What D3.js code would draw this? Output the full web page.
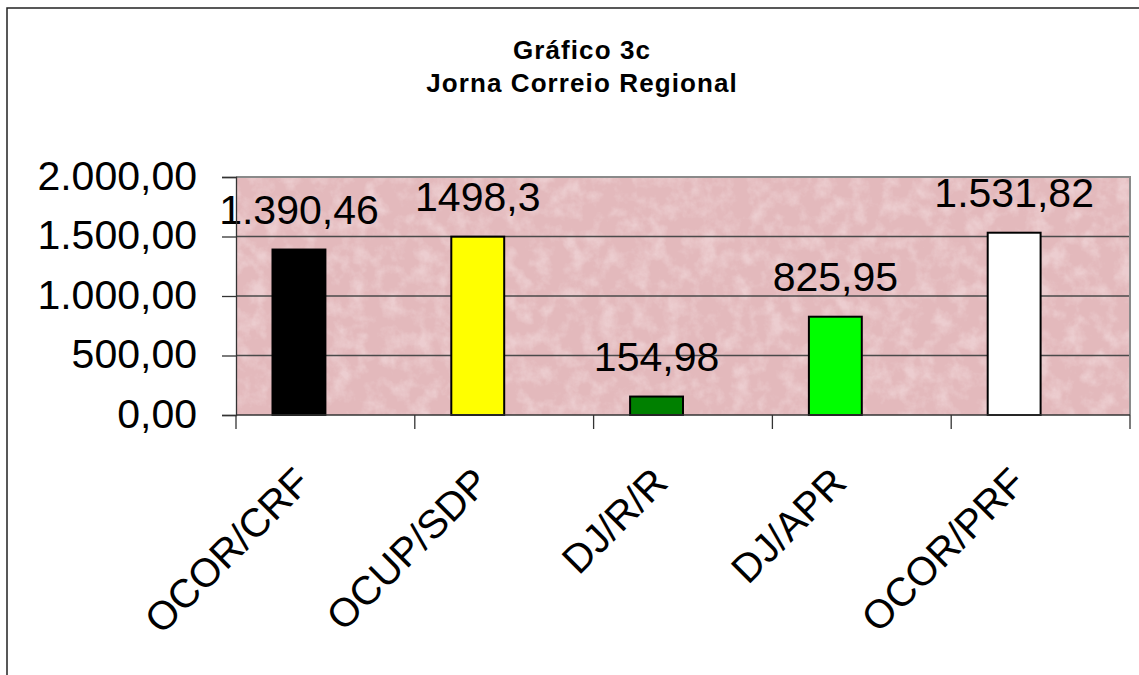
<!DOCTYPE html>
<html>
<head>
<meta charset="utf-8">
<script src="https://cdn.jsdelivr.net/npm/d3@7"></script>
<style>
  body { margin: 0; background: #fff; }
  text { font-family: "Liberation Sans", Arial, sans-serif; fill: #000; }
</style>
</head>
<body>
<svg id="chart" width="1139" height="675"></svg>
<script>
// chart data
const categories = ["OCOR/CRF", "OCUP/SDP", "DJ/R/R", "DJ/APR", "OCOR/PRF"];
const values = [1390.46, 1498.3, 154.98, 825.95, 1531.82];
const valueLabels = ["1.390,46", "1498,3", "154,98", "825,95", "1.531,82"];
const barColors = ["#000000", "#ffff00", "#008000", "#00ff00", "#ffffff"];
const yTicks = [0, 500, 1000, 1500, 2000];
const titleLines = ["Gráfico 3c", "Jorna Correio Regional"];

const svg = d3.select("#chart");

// plot area box
const plotL = 236, plotR = 1130, plotT = 177, plotB = 415;

// pt-BR number style for the axis
const br = d3.formatLocale({ decimal: ",", thousands: ".", grouping: [3], currency: ["", ""] });
const fmt = br.format(",.2f");

// scales
const x0 = d3.scaleBand().domain(categories).range([plotL, plotR]).padding(0);
// excel draws the bar in the left slot of a two slot cluster
const x1 = d3.scaleBand().domain(["v", "blank"]).range([0, x0.bandwidth()]).paddingInner(0).paddingOuter(0.69);
const y = d3.scaleLinear().domain([0, 2000]).range([plotB, plotT]);

// marble-ish texture for the plot background
const defs = svg.append("defs");
const filt = defs.append("filter").attr("id", "marble")
    .attr("x", 0).attr("y", 0).attr("width", 1).attr("height", 1);
filt.append("feTurbulence")
    .attr("type", "fractalNoise")
    .attr("baseFrequency", 0.06)
    .attr("numOctaves", 4)
    .attr("seed", 3)
    .attr("result", "noise");
filt.append("feColorMatrix")
    .attr("in", "noise")
    .attr("type", "matrix")
    .attr("values", "0 0 0 0 0.96  0 0 0 0 0.85  0 0 0 0 0.86  2.5 0 0 0 -1.05");

// outer frame, runs off the right and bottom of the picture
svg.append("rect")
    .attr("x", 7).attr("y", 8)
    .attr("width", 1300).attr("height", 800)
    .attr("fill", "none")
    .attr("stroke", "#222")
    .attr("stroke-width", 1.5);

// title
svg.append("g").selectAll("text")
    .data(titleLines)
    .join("text")
    .attr("x", 582)
    .attr("y", (d, i) => 59 + i * 33)
    .attr("text-anchor", "middle")
    .attr("font-size", 26)
    .attr("font-weight", "bold")
    .attr("letter-spacing", 1.1)
    .text(d => d);

// plot background
svg.append("rect")
    .attr("x", plotL).attr("y", plotT)
    .attr("width", plotR - plotL).attr("height", plotB - plotT)
    .attr("fill", "#e3b9bc");
svg.append("rect")
    .attr("x", plotL).attr("y", plotT)
    .attr("width", plotR - plotL).attr("height", plotB - plotT)
    .attr("filter", "url(#marble)")
    .attr("opacity", 0.4);

// gridlines
svg.append("g").selectAll("line")
    .data(yTicks.filter(d => d > 0))
    .join("line")
    .attr("x1", plotL).attr("x2", plotR)
    .attr("y1", d => y(d)).attr("y2", d => y(d))
    .attr("stroke", "#4a4a4a")
    .attr("stroke-width", 1.3);

// plot border top and right
svg.append("path")
    .attr("d", `M${plotL},${plotT}H${plotR}V${plotB}`)
    .attr("fill", "none")
    .attr("stroke", "#8a8a8a")
    .attr("stroke-width", 2);

// bars
svg.append("g").selectAll("rect")
    .data(values)
    .join("rect")
    .attr("x", (d, i) => x0(categories[i]) + x1("v"))
    .attr("y", d => y(d))
    .attr("width", x1.bandwidth())
    .attr("height", d => y(0) - y(d))
    .attr("fill", (d, i) => barColors[i])
    .attr("stroke", "#000")
    .attr("stroke-width", 2);

// value labels
svg.append("g").selectAll("text")
    .data(values)
    .join("text")
    .attr("x", (d, i) => x0(categories[i]) + x1("v") + x1.bandwidth() / 2)
    .attr("y", d => y(d) - 26)
    .attr("text-anchor", "middle")
    .attr("font-size", 41)
    .text((d, i) => valueLabels[i]);

// y axis
const yAxis = svg.append("g")
    .attr("transform", `translate(${plotL},0)`)
    .call(d3.axisLeft(y).tickValues(yTicks).tickSize(14).tickPadding(25).tickFormat(fmt));
yAxis.select(".domain").attr("stroke", "#333").attr("stroke-width", 1.3);
yAxis.selectAll(".tick line").attr("stroke", "#333").attr("stroke-width", 1.3);
yAxis.selectAll(".tick text")
    .attr("font-size", 41)
    .attr("font-family", "Liberation Sans, Arial, sans-serif")
    .attr("dy", "0.3em");

// x axis: baseline plus ticks at the category edges
const xg = svg.append("g");
xg.append("line")
    .attr("x1", plotL).attr("x2", plotR)
    .attr("y1", plotB).attr("y2", plotB)
    .attr("stroke", "#333").attr("stroke-width", 1.3);
const edges = categories.map(c => x0(c)).concat([plotR]);
xg.selectAll("line.tk")
    .data(edges)
    .join("line")
    .attr("class", "tk")
    .attr("x1", d => d).attr("x2", d => d)
    .attr("y1", plotB).attr("y2", plotB + 14)
    .attr("stroke", "#333").attr("stroke-width", 1.3);

// rotated category labels
xg.selectAll("text")
    .data(categories)
    .join("text")
    .attr("text-anchor", "end")
    .attr("font-size", 40)
    .attr("dy", "0.35em")
    .attr("transform", d => `translate(${x0(d) + x0.bandwidth() / 2 - 23},475) rotate(-45)`)
    .text(d => d);
</script>
</body>
</html>
